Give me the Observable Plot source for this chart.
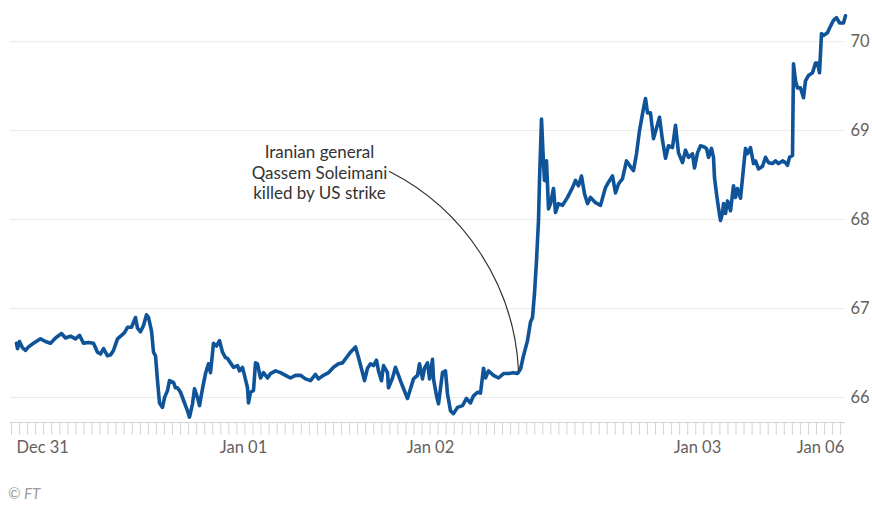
<!DOCTYPE html>
<html>
<head>
<meta charset="utf-8">
<script src="https://cdn.jsdelivr.net/npm/d3@7"></script>
<script src="https://cdn.jsdelivr.net/npm/@observablehq/plot@0.6"></script>
<style>
  html, body { margin: 0; padding: 0; background: #fff; overflow: hidden; }
  #chart { width: 872px; height: 505px; position: relative; font-family: Lato, "Open Sans", sans-serif; }
  #caption { position: absolute; left: 8px; top: 484px; font-size: 15px; line-height: 18px; font-style: italic; color: #9a9a9a; }
</style>
</head>
<body>
<div id="chart"></div>
<script>
// trading-time index (0 = Dec 31 open) and Brent price ($/barrel)
const timeIdx = [0,1,3,6,9,12,17,24,29,34,39,45,49,54,59,63,67,72,77,81,84,87,91,94,97,101,105,108,111,115,119,121,124,127,130,132,135,137,139,141,143,146,148,151,153,157,159,
161,164,167,171,173,176,178,181,183,186,189,192,194,197,200,203,206,209,211,214,217,221,223,226,228,231,232,234,237,239,241,244,247,251,254,259,264,269,274,279,284,289,294,299,302,307,312,317,322,326,330,334,
339,342,346,348,351,354,357,360,362,365,367,371,372,376,379,382,386,391,394,397,401,403,406,408,411,413,416,417,420,422,426,429,431,434,437,441,446,450,454,457,461,464,467,469,472,477,482,487,492,497,501,504,507,511,514,516,
518,520,522,523,525,527,528,530,532,534,537,539,542,546,551,556,559,562,565,568,571,574,579,584,589,592,596,599,602,606,610,613,617,620,623,627,629,631,634,637,641,643,646,649,652,656,659,662,666,669,672,676,678,681,684,687,690,692,695,697,698,700,702,704,706,707,709,711,714,717,719,721,724,727,729,731,734,737,739,742,746,749,752,756,759,762,766,769,771,773,776,777,779,781,784,787,789,792,796,799,801,803,805,807,811,813,817,820,823,827,829];
const brent = [66.61,66.55,66.63,66.56,66.53,66.57,66.61,66.66,66.63,66.61,66.67,66.72,66.67,66.69,66.66,66.70,66.61,66.62,66.61,66.51,66.49,66.55,66.47,66.48,66.53,66.66,66.70,66.73,66.79,66.79,66.90,66.78,66.74,66.81,66.93,66.90,66.75,66.51,66.47,66.19,65.94,65.89,66.00,66.08,66.19,66.17,66.11,
66.11,66.06,65.97,65.85,65.78,65.93,66.10,66.00,65.91,66.10,66.27,66.38,66.28,66.61,66.58,66.64,66.51,66.45,66.44,66.39,66.34,66.36,66.30,66.34,66.25,66.11,65.94,66.06,66.08,66.39,66.38,66.22,66.28,66.22,66.27,66.30,66.28,66.25,66.22,66.25,66.25,66.21,66.19,66.26,66.21,66.25,66.28,66.34,66.38,66.39,66.45,66.51,
66.57,66.45,66.28,66.19,66.33,66.38,66.36,66.42,66.30,66.19,66.36,66.28,66.11,66.22,66.34,66.25,66.13,65.99,66.10,66.21,66.25,66.38,66.21,66.33,66.39,66.21,66.43,66.21,66.02,65.93,66.28,66.30,66.04,65.85,65.82,65.89,65.91,65.99,65.94,66.02,66.06,66.05,66.33,66.22,66.30,66.25,66.22,66.27,66.27,66.28,66.27,66.32,66.47,
66.64,66.85,66.90,67.17,67.54,67.99,68.44,69.13,68.63,68.44,68.66,68.12,68.18,68.35,68.08,68.18,68.16,68.25,68.36,68.44,68.38,68.49,68.29,68.18,68.25,68.19,68.16,68.36,68.42,68.49,68.30,68.40,68.46,68.66,68.61,68.55,68.74,69.00,69.25,69.36,69.20,69.20,68.91,69.07,69.15,68.89,68.69,68.83,68.81,69.06,68.75,68.64,68.78,68.70,68.74,68.58,68.75,68.83,68.82,68.80,68.70,68.80,68.70,68.47,68.29,68.13,67.99,68.07,68.18,68.07,68.21,68.10,68.38,68.25,68.35,68.24,68.58,68.80,68.74,68.81,68.63,68.66,68.57,68.60,68.70,68.64,68.63,68.66,68.63,68.66,68.64,68.61,68.70,68.72,69.75,69.56,69.48,69.48,69.37,69.56,69.62,69.65,69.76,69.76,69.65,70.09,70.07,70.10,70.15,70.24,70.27,70.21,70.21,70.29];

const tickIdx = [0, 227, 414, 681, 804];
const tickLabels = ["Dec 31", "Jan 01", "Jan 02", "Jan 03", "Jan 06"];
const yTicks = [66, 67, 68, 69, 70];

const annotationLines = ["Iranian general", "Qassem Soleimani", "killed by US strike"];
const annotationAt = {x: 303, y: 68.86};
const arrowFrom = {x: 373, y: 68.54};
const arrowTo = {x: 502, y: 66.31};

const series = timeIdx.map((t, i) => ({t, v: brent[i]}));
const ticks = tickIdx.map((t, i) => ({t, label: tickLabels[i]}));
const minorTicks = d3.range(-5, 830, 8.05);

const yMin = 65.72;
const chart = Plot.plot({
  width: 872,
  height: 470,
  marginLeft: 10,
  marginRight: 27,
  marginTop: 10,
  marginBottom: 48,
  style: {fontFamily: "Lato, 'Open Sans', sans-serif", background: "#fff"},
  x: {domain: [-6, 829], axis: null},
  y: {domain: [yMin, 70.35], axis: null},
  marks: [
    Plot.gridY(yTicks, {stroke: "#e9e9e9", strokeOpacity: 1}),
    Plot.axisY(yTicks, {anchor: "right", label: null, tickSize: 0, tickPadding: 5, tickFormat: d3.format("d"), fontSize: 16.5, fill: "#66605c", textAnchor: "start"}),
    Plot.axisX(minorTicks, {anchor: "bottom", label: null, tickSize: 13, tickFormat: () => "", stroke: "#d4d4d4"}),
    Plot.ruleY([yMin], {stroke: "#d4d4d4"}),
    Plot.text(ticks.slice(0, 1), {x: "t", text: "label", frameAnchor: "bottom", dy: 30, textAnchor: "start", fontSize: 16.5, fill: "#66605c"}),
    Plot.text(ticks.slice(1), {x: "t", text: "label", frameAnchor: "bottom", dy: 30, textAnchor: "middle", fontSize: 16.5, fill: "#66605c"}),
    Plot.line(series, {x: "t", y: "v", stroke: "#0f5499", strokeWidth: 3.6, strokeLinejoin: "round", strokeLinecap: "round"}),
    Plot.arrow([{}], {x1: () => arrowFrom.x, y1: () => arrowFrom.y, x2: () => arrowTo.x, y2: () => arrowTo.y, bend: 30, headLength: 0, stroke: "#333", strokeWidth: 1.2}),
    Plot.text([annotationLines.join("\n")], {x: () => annotationAt.x, y: () => annotationAt.y, text: d => d, textAnchor: "middle", lineAnchor: "top", lineHeight: 1.22, fontSize: 17, fill: "#333"})
  ]
});
const root = document.getElementById("chart");
root.appendChild(chart);
const cap = document.createElement("div");
cap.id = "caption";
cap.textContent = "© FT";
root.appendChild(cap);
</script>
</body>
</html>
